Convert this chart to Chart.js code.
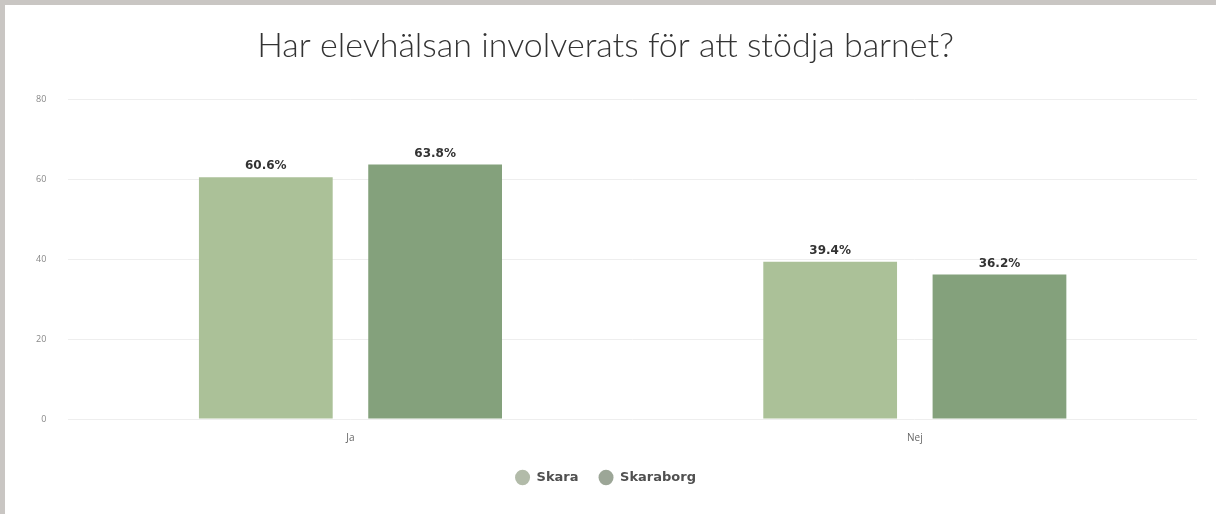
<!DOCTYPE html>
<html>
<head>
<meta charset="utf-8">
<script src="https://cdn.jsdelivr.net/npm/chart.js@4.4.0/dist/chart.umd.min.js"></script>
<style>
    html, body { margin: 0; padding: 0; background: #c9c6c3; }
    .card { position: absolute; left: 5px; top: 5px; width: 1211px; height: 509px; background: #fff; }
    canvas { display: block; }
</style>
</head>
<body>
<div class="card"><canvas id="chart" width="1211" height="509"></canvas></div>
<script>
// Data
const categories = ['Ja', 'Nej'];
const skaraValues = [60.6, 39.4];
const skaraborgValues = [63.8, 36.2];
const yTicks = [0, 20, 40, 60, 80];

const barColors = ['#abc198', '#84a17c'];
const legendColors = ['#b2bba9', '#9ca697'];

// Skriver procentvärden ovanför staplarna
const valueLabels = {
    id: 'valueLabels',
    afterDatasetsDraw(chart) {
        const ctx = chart.ctx;
        ctx.save();
        ctx.font = 'bold 12px "DejaVu Sans", sans-serif';
        ctx.fillStyle = '#333';
        ctx.textAlign = 'center';
        ctx.textBaseline = 'bottom';
        chart.data.datasets.forEach((ds, i) => {
            chart.getDatasetMeta(i).data.forEach((bar, j) => {
                ctx.fillText(ds.data[j].toFixed(1) + '%', bar.x, bar.y - 5);
            });
        });
        ctx.restore();
    }
};

const ctx = document.getElementById('chart').getContext('2d');
new Chart(ctx, {
    type: 'bar',
    data: {
        labels: categories,
        datasets: [{
            label: 'Skara',
            data: skaraValues,
            backgroundColor: barColors[0]
        }, {
            label: 'Skaraborg',
            data: skaraborgValues,
            backgroundColor: barColors[1]
        }]
    },
    options: {
        responsive: false,
        animation: false,
        layout: { padding: { left: 9, right: 19, top: 0, bottom: 20 } },
        datasets: { bar: { categoryPercentage: 0.6, barPercentage: 0.79 } },
        scales: {
            x: {
                grid: { display: false },
                border: { display: false },
                ticks: { color: '#666', font: { size: 10, family: '"Open Sans", sans-serif' }, padding: 5 },
                afterFit: axis => { axis.height += 2; }
            },
            y: {
                min: 0,
                max: 80,
                afterBuildTicks: axis => { axis.ticks = yTicks.map(v => ({ value: v })); },
                grid: { color: '#eeeeee', drawTicks: false },
                border: { display: false },
                ticks: { color: '#888', font: { size: 9, family: '"Open Sans", sans-serif' }, padding: 22 }
            }
        },
        plugins: {
            title: {
                display: true,
                text: 'Har elevhälsan involverats för att stödja barnet?',
                color: '#333',
                font: { size: 34, weight: '300', family: 'Lato, sans-serif' },
                padding: { top: 21, bottom: 33 }
            },
            legend: {
                position: 'bottom',
                labels: {
                    usePointStyle: true,
                    pointStyle: 'circle',
                    pointStyleWidth: 15,
                    boxWidth: 11,
                    boxHeight: 11,
                    padding: 20,
                    color: '#505050',
                    font: { size: 13, weight: 'bold', family: '"DejaVu Sans", sans-serif' },
                    generateLabels: chart => chart.data.datasets.map((ds, i) => ({
                        text: ds.label,
                        fillStyle: legendColors[i],
                        strokeStyle: legendColors[i],
                        fontColor: '#505050',
                        lineWidth: 0,
                        pointStyle: 'circle',
                        hidden: false,
                        datasetIndex: i
                    }))
                }
            },
            tooltip: { enabled: false }
        }
    },
    plugins: [valueLabels]
});
</script>
</body>
</html>
